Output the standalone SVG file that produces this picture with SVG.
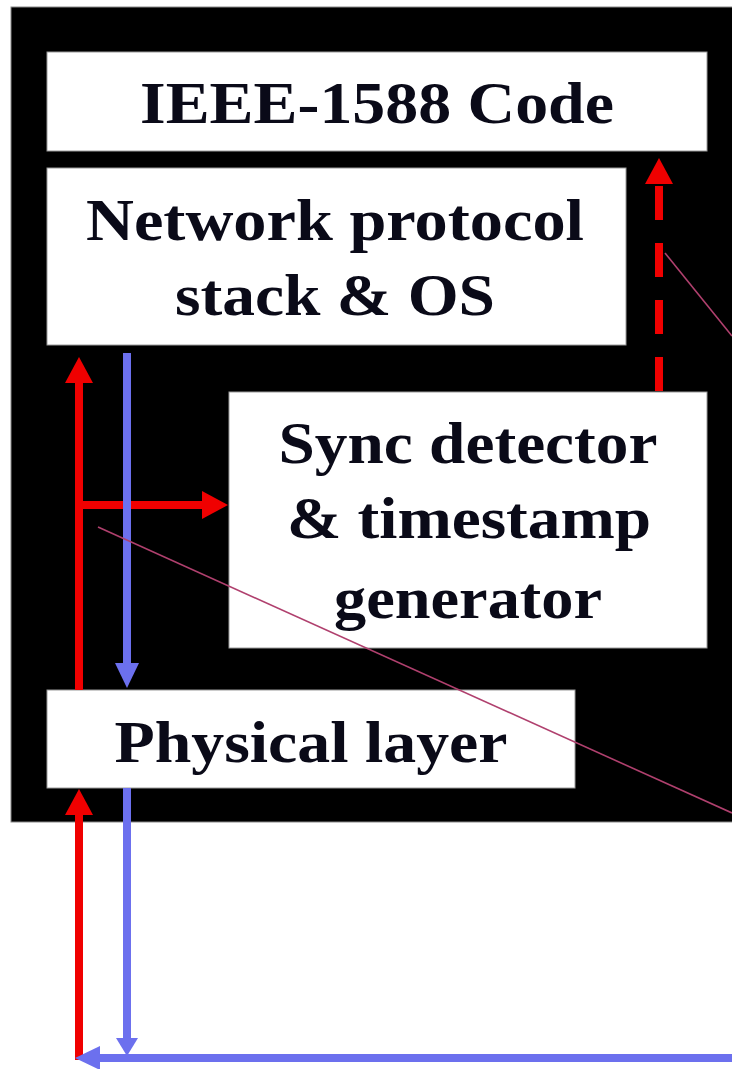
<svg xmlns="http://www.w3.org/2000/svg" width="732" height="1069" viewBox="0 0 732 1069">
<style>
.box{fill:#ffffff;stroke:#9a9a9a;stroke-width:1}
.lbl{font-family:"Liberation Serif","Times New Roman",serif;font-weight:bold;font-size:60px;fill:#0a0a18;text-anchor:middle}
.red{stroke:#f00000;stroke-width:8;fill:none}
.blue{stroke:#6c70ee;stroke-width:8;fill:none}
.pink{stroke:#b0406e;stroke-width:1.6;fill:none}
</style>
<defs>
<marker id="hr" viewBox="0 0 26 28" refX="0" refY="14" markerWidth="26" markerHeight="28" markerUnits="userSpaceOnUse" orient="auto"><path d="M0,0 L26,14 L0,28 z" fill="#f00000"/></marker>
<marker id="hb" viewBox="0 0 25 24" refX="0" refY="12" markerWidth="25" markerHeight="24" markerUnits="userSpaceOnUse" orient="auto"><path d="M0,0 L25,12 L0,24 z" fill="#6c70ee"/></marker>
<marker id="hbs" viewBox="0 0 18 22" refX="0" refY="11" markerWidth="18" markerHeight="22" markerUnits="userSpaceOnUse" orient="auto"><path d="M0,0 L18,11 L0,22 z" fill="#6c70ee"/></marker>
</defs>
<rect x="0" y="0" width="732" height="1069" fill="#ffffff"/>
<rect x="11" y="7" width="730" height="815" fill="#000000" stroke="#888" stroke-width="1"/>
<g id="ieee">
<rect class="box" x="47" y="52" width="660" height="99"/>
<text class="lbl" x="377" y="123" textLength="474" lengthAdjust="spacingAndGlyphs">IEEE-1588 Code</text>
</g>
<g id="network">
<rect class="box" x="47" y="168" width="579" height="177"/>
<text class="lbl" x="335" y="240" textLength="498" lengthAdjust="spacingAndGlyphs">Network protocol</text>
<text class="lbl" x="335" y="315" textLength="320" lengthAdjust="spacingAndGlyphs">stack &amp; OS</text>
</g>
<g id="sync">
<rect class="box" x="229" y="392" width="478" height="256"/>
<text class="lbl" x="468" y="463" textLength="379" lengthAdjust="spacingAndGlyphs">Sync detector</text>
<text class="lbl" x="469" y="538" textLength="364" lengthAdjust="spacingAndGlyphs">&amp; timestamp</text>
<text class="lbl" x="468" y="618" textLength="268" lengthAdjust="spacingAndGlyphs">generator</text>
</g>
<g id="physical">
<rect class="box" x="47" y="690" width="528" height="98"/>
<text class="lbl" x="311" y="762" textLength="393" lengthAdjust="spacingAndGlyphs">Physical layer</text>
</g>
<g id="connectors">
<path class="red" d="M659,391 V184" stroke-width="10" stroke-dasharray="34 23" marker-end="url(#hr)"/>
<path class="red" d="M79,690 V383" marker-end="url(#hr)"/>
<path class="red" d="M79,505 H202" stroke-width="9" marker-end="url(#hr)"/>
<path class="blue" d="M127,353 V663" marker-end="url(#hb)"/>
<path class="red" d="M79,1060 V815" marker-end="url(#hr)"/>
<path class="blue" d="M127,788 V1038" marker-end="url(#hbs)"/>
<path class="blue" d="M732,1058 H100" marker-end="url(#hb)"/>
<path class="pink" d="M665,253 L732,336"/>
<path class="pink" d="M98,527 L732,813"/>
</g>
</svg>
